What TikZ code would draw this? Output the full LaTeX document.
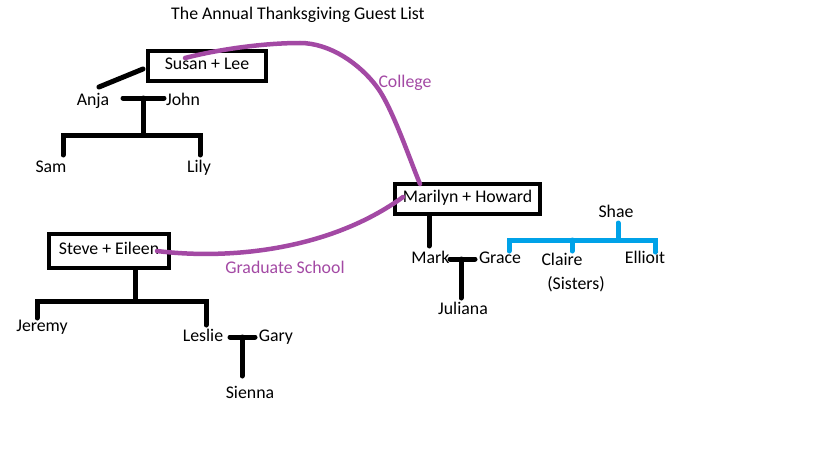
\documentclass[tikz,border=0pt]{standalone}
\usepackage{fontspec}
\setmainfont{Carlito}
\usepackage{xcolor}
\usepackage{tikz}
\definecolor{paintpurple}{HTML}{A349A4}
\definecolor{paintblue}{HTML}{00A2E8}

\begin{document}
\begin{tikzpicture}[x=1pt, y=-1pt,
  person/.style={inner sep=0pt, text height=0.64em, text depth=0pt, yshift=-2.5pt, font=\namefont},
  couple/.style={person, draw, line width=4.5pt, yshift=2.5pt},
  kin/.style={line width=5pt, line cap=round},
  sisterline/.style={kin, paintblue},
  tie/.style={line width=4.5pt, paintpurple, line cap=round},
  tielabel/.style={person, text=paintpurple}]
\def\namefont{\fontsize{17.8}{21}\selectfont}
\useasboundingbox (0, 0) rectangle (819, 460);

\node [person] (title) at (298, 14) {The Annual Thanksgiving Guest List};

\begin{scope} % SUSAN + LEE
\node [couple, minimum width=118, minimum height=30] (susan) at (207, 66) {Susan + Lee};
\node [person] (anja) at (93, 100) {Anja};
\node [person] (john) at (183, 100) {John};
\node [person] (sam) at (51, 167) {Sam};
\node [person] (lily) at (199, 167) {Lily};

\coordinate (anjatop) at (99, 87);
\coordinate (susanleft) at (143, 69);
\draw[kin] (anjatop) -- (susanleft);

\coordinate (ajleft) at (123, 98);
\coordinate (ajright) at (164, 98);
\coordinate (ajmid) at (143, 98);
\coordinate (ajkids) at (143, 135);
\coordinate (samtop) at (63, 155);
\coordinate (lilytop) at (200, 155);
\draw[kin] (ajleft) -- (ajright);
\draw[kin] (ajmid) -- (ajkids);
\draw[kin] (samtop) |- (ajkids) -| (lilytop);
\end{scope}

\begin{scope} % STEVE + EILEEN
\node [couple, minimum width=120, minimum height=34] (steve) at (109, 251) {Steve + Eileen};
\node [person] (jeremy) at (42, 326) {Jeremy};
\node [person] (leslie) at (203, 336) {Leslie};
\node [person] (gary) at (276, 336) {Gary};
\node [person] (sienna) at (250, 393) {Sienna};

\coordinate (sekids) at (135, 301);
\coordinate (jeremytop) at (37, 318);
\coordinate (leslietop) at (206, 325);
\draw[kin] (steve.south -| sekids) -- (sekids);
\draw[kin] (jeremytop) |- (sekids) -| (leslietop);

\coordinate (lgleft) at (230, 337);
\coordinate (lgright) at (255, 337);
\coordinate (lgmid) at (242, 337);
\coordinate (siennatop) at (242, 376);
\draw[kin] (lgleft) -- (lgright);
\draw[kin] (lgmid) -- (siennatop);
\end{scope}

\begin{scope} % MARILYN + HOWARD
\node [couple, minimum width=145, minimum height=30] (marilyn) at (467.5, 199) {Marilyn + Howard};
\node [person] (mark) at (430.5, 258) {Mark};
\node [person] (grace) at (500, 258) {Grace};
\node [person] (juliana) at (463, 309) {Juliana};

\coordinate (marktop) at (429, 246);
\draw[kin] (marilyn.south -| marktop) -- (marktop);

\coordinate (mgleft) at (450, 259);
\coordinate (mgright) at (475, 259);
\coordinate (mgmid) at (461, 259);
\coordinate (julianatop) at (461, 298);
\draw[kin] (mgleft) -- (mgright);
\draw[kin] (mgmid) -- (julianatop);
\end{scope}

\begin{scope} % SISTERS
\node [person] (shae) at (616, 212) {Shae};
\node [person] (claire) at (562, 260) {Claire};
\node [person] (sisters) at (576, 284) {(Sisters)};
\node [person] (ellioit) at (645, 258) {Ellioit};

\coordinate (shaebottom) at (618, 223);
\coordinate (sisbar) at (618, 240);
\coordinate (gracetop) at (509, 251);
\coordinate (clairetop) at (572, 251);
\coordinate (ellioittop) at (655, 252);
\draw[sisterline] (shaebottom) -- (sisbar);
\draw[sisterline] (gracetop) |- (sisbar) -| (ellioittop);
\draw[sisterline] (clairetop) -- (clairetop |- sisbar);
\end{scope}

% friendships
\coordinate (collegestart) at (185, 58);
\coordinate (collegetop) at (300, 43);
\coordinate (collegemid) at (377, 87);
\coordinate (collegeend) at (420, 184);
\draw[tie] (collegestart) .. controls (220, 49) and (265, 43) .. (collegetop)
  .. controls (330, 43) and (360, 64) .. (collegemid)
  .. controls (392, 107) and (410, 160) .. (collegeend);
\node [tielabel] (college) at (405, 82) {College};

\coordinate (gradstart) at (157, 251);
\coordinate (gradend) at (403, 197);
\draw[tie] (gradstart) .. controls (230, 260) and (330, 250) .. (gradend);
\node [tielabel] (grad) at (285, 268) {Graduate School};
\end{tikzpicture}
\end{document}
